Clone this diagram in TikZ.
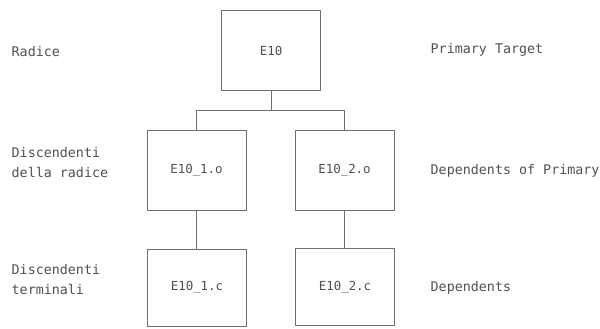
\documentclass[tikz,border=0pt]{standalone}
\usepackage{fontspec}
\setmonofont{DejaVu Sans Mono}
\definecolor{ink}{HTML}{505050}
\definecolor{rule}{HTML}{707070}
\begin{document}
\begin{tikzpicture}[x=1bp,y=-1bp,
  box/.style={draw=rule,line width=0.8bp,minimum width=99bp,minimum height=80bp,inner sep=0pt,
    font=\ttfamily\fontsize{12.5}{14}\selectfont,text=ink},
  lab/.style={anchor=west,inner sep=0pt,align=left,font=\ttfamily\fontsize{13.4}{19.5}\selectfont,text=ink},
  link/.style={draw=rule,line width=0.8bp}]
\useasboundingbox (0,0) rectangle (600,328);
\node[box] (e10) at (271,50.5) {E10};
\node[box] (o1) at (196.5,170.5) {E10\_1.o};
\node[box] (o2) at (344.5,170) {E10\_2.o};
\node[box,minimum height=77bp] (c1) at (197,287.5) {E10\_1.c};
\node[box,minimum height=77bp] (c2) at (345,287) {E10\_2.c};
\coordinate (j) at (271,110.7);
\draw[link] (e10.south) -- (j);
\draw[link] (o1.north) |- (j) -| (o2.north);
\draw[link] (o1.south) -- (o1.south |- c1.north);
\draw[link] (o2.south) -- (o2.south |- c2.north);
\node[lab] (r) at (11.5,51.7) {Radice};
\node[lab] (dr) at (11.5,162.5) {Discendenti\\della radice};
\node[lab] (dt) at (11.5,279.7) {Discendenti\\terminali};
\node[lab] (pt) at (430.5,50) {Primary Target};
\node[lab] (dp) at (430.5,170.7) {Dependents of Primary};
\node[lab] (dd) at (430.5,288) {Dependents};
\end{tikzpicture}
\end{document}
